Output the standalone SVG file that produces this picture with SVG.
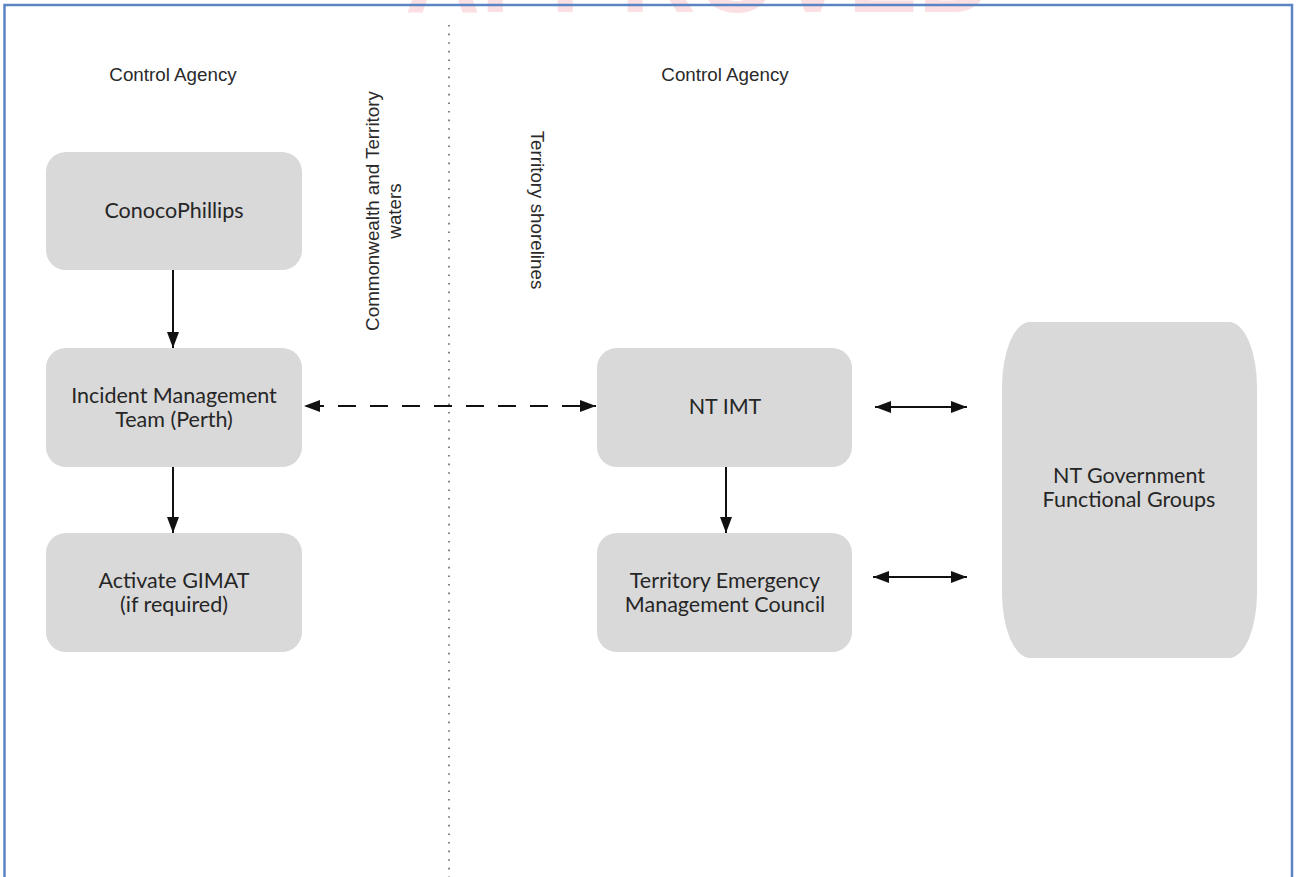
<svg xmlns="http://www.w3.org/2000/svg" width="1296" height="877" viewBox="0 0 1296 877">
  <style>
    .box { fill: #d9d9d9; }
    .nt { font-family: Lato, "Open Sans", "Liberation Sans", sans-serif; font-size: 21.5px; fill: #262626; text-anchor: middle; }
    .lbl { font-family: "Liberation Sans", Arial, sans-serif; font-size: 18.8px; fill: #2a2a2a; text-anchor: middle; }
    .conn { stroke: #111; stroke-width: 2; fill: none; }
  </style>
  <defs>
    <marker id="ah" viewBox="0 0 16 12" refX="16" refY="6" markerWidth="16" markerHeight="12" markerUnits="userSpaceOnUse" orient="auto-start-reverse">
      <path d="M0,0 L16,6 L0,12 Z" fill="#111"/>
    </marker>
  </defs>
  <rect width="1296" height="877" fill="#ffffff"/>
  <text x="405" y="12" font-family="Liberation Sans, Arial, sans-serif" font-weight="bold" font-size="104" fill="#fbdfe2" textLength="588" lengthAdjust="spacing">APPROVED</text>
  <g id="frame" fill="none" stroke="#5a84c2" stroke-width="2.5">
    <path d="M4.5,877 V5 H1292 V877"/>
  </g>
  <line id="divider" x1="449" y1="25" x2="449" y2="877" stroke="#666" stroke-width="1.6" stroke-dasharray="1.6 7"/>
  <g id="labels">
    <text class="lbl" x="173" y="81">Control Agency</text>
    <text class="lbl" x="725" y="81">Control Agency</text>
    <text class="lbl" transform="translate(379,211) rotate(-90)">Commonwealth and Territory</text>
    <text class="lbl" transform="translate(401,211) rotate(-90)">waters</text>
    <text class="lbl" transform="translate(531,210) rotate(90)">Territory shorelines</text>
  </g>
  <g id="node-conocophillips">
    <rect class="box" x="46" y="152" width="256" height="118" rx="20"/>
    <text class="nt" x="174" y="218">ConocoPhillips</text>
  </g>
  <g id="node-imt-perth">
    <rect class="box" x="46" y="348" width="256" height="119" rx="20"/>
    <text class="nt" x="174" y="403">Incident Management</text>
    <text class="nt" x="174" y="427">Team (Perth)</text>
  </g>
  <g id="node-gimat">
    <rect class="box" x="46" y="533" width="256" height="119" rx="20"/>
    <text class="nt" x="174" y="588">Activate GIMAT</text>
    <text class="nt" x="174" y="612">(if required)</text>
  </g>
  <g id="node-nt-imt">
    <rect class="box" x="597" y="348" width="255" height="119" rx="20"/>
    <text class="nt" x="725" y="414">NT IMT</text>
  </g>
  <g id="node-temc">
    <rect class="box" x="597" y="533" width="255" height="119" rx="20"/>
    <text class="nt" x="725" y="588">Territory Emergency</text>
    <text class="nt" x="725" y="612">Management Council</text>
  </g>
  <g id="node-nt-gov">
    <rect class="box" x="1002" y="322" width="255" height="336" rx="28" ry="65"/>
    <text class="nt" x="1129" y="483">NT Government</text>
    <text class="nt" x="1129" y="507">Functional Groups</text>
  </g>
  <g id="connectors">
    <line class="conn" x1="173" y1="270" x2="173" y2="348" marker-end="url(#ah)"/>
    <line class="conn" x1="173" y1="467" x2="173" y2="533" marker-end="url(#ah)"/>
    <line class="conn" x1="726" y1="467" x2="726" y2="533" marker-end="url(#ah)"/>
    <line class="conn" x1="304" y1="406" x2="596" y2="406" stroke-dasharray="18 14" stroke-dashoffset="-2" marker-start="url(#ah)" marker-end="url(#ah)"/>
    <line class="conn" x1="875" y1="407" x2="967" y2="407" marker-start="url(#ah)" marker-end="url(#ah)"/>
    <line class="conn" x1="873" y1="577" x2="967" y2="577" marker-start="url(#ah)" marker-end="url(#ah)"/>
  </g>
</svg>
